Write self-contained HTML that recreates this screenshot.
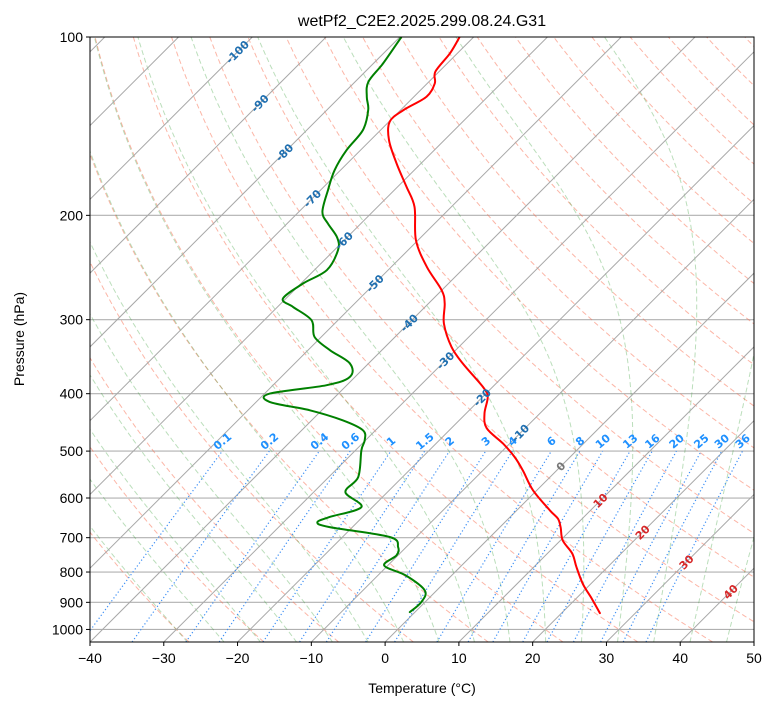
<!DOCTYPE html>
<html><head><meta charset="utf-8"><style>
html,body{margin:0;padding:0;background:#fff;}
svg{display:block;font-family:"Liberation Sans","DejaVu Sans",sans-serif;}
.lbl{font-family:"DejaVu Sans","Liberation Sans",sans-serif;}
</style></head><body>
<svg id="chart" width="775" height="708" viewBox="0 0 775 708" xmlns="http://www.w3.org/2000/svg">
<defs><clipPath id="plotclip"><rect x="90" y="37" width="664" height="605"/></clipPath></defs>
<rect x="0" y="0" width="775" height="708" fill="#fff"/>
<text x="422" y="26" text-anchor="middle" font-size="16" fill="#000">wetPf2_C2E2.2025.299.08.24.G31</text>
<g id="bg" clip-path="url(#plotclip)"></g>
<g id="traces" clip-path="url(#plotclip)"></g>
<g id="labels"></g>
<rect x="90" y="37" width="664" height="605" fill="none" stroke="#000" stroke-width="1"/>
<g id="axes"></g>
<text x="422" y="693" text-anchor="middle" font-size="14">Temperature (°C)</text>
<text x="24" y="339" text-anchor="middle" font-size="14" transform="rotate(-90 24 339)">Pressure (hPa)</text>
</svg>
<script>
const redP=[100,106.5,114.4,119.7,126.1,132.8,139.0,149.3,163.5,179.0,193.5,220.2,244.3,267.6,281.8,304.5,333.5,355.8,389.7,405.2,432.1,457.5,485.7,511.7,538.9,582.4,629.5,650.1,671.7,707.4,744.8,785.1,837.3,886.7,938.6];
const redT=[-71.9,-71.0,-70.5,-69.0,-68.3,-69.6,-69.9,-67.5,-63.3,-58.8,-55.0,-50.3,-45.2,-40.0,-37.8,-35.2,-31.0,-27.2,-21.3,-19.3,-17.5,-15.2,-10.9,-7.5,-4.6,-0.5,4.5,6.7,8.2,10.3,13.4,15.8,18.9,22.1,25.2];
const dewP=[100,110.8,119.0,126.1,132.8,143.6,155.2,167.8,181.3,197.3,206.4,218.1,229.0,247.5,260.6,276.4,285.5,300.6,320.9,337.9,355.8,374.8,387.1,399.9,413.0,426.7,443.6,461.1,479.5,498.5,553.1,586.3,621.5,646.2,659.6,671.7,698.3,726.1,749.9,779.8,810.8,859.5,899.6,934.9];
const dewT=[-79.8,-78.7,-78.2,-76.4,-74.4,-72.4,-71.9,-70.8,-69.0,-66.8,-64.5,-61.3,-59.5,-58.3,-59.7,-60.4,-57.9,-53.6,-50.9,-47.0,-42.5,-40.7,-42.8,-49.3,-48.2,-41.6,-35.8,-31.7,-30.1,-29.2,-26.0,-25.7,-21.5,-24.5,-25.4,-23.1,-13.6,-11.1,-10.2,-10.5,-6.2,-1.6,-0.5,-0.7];
const isobars=[100,200,300,400,500,600,700,800,900,1000];
const xTicks=[-40,-30,-20,-10,0,10,20,30,40,50];
const mixRatios=[0.1,0.2,0.4,0.6,1,1.5,2,3,4,6,8,10,13,16,20,25,30,36];
const mixLabels=["0.1","0.2","0.4","0.6","1","1.5","2","3","4","6","8","10","13","16","20","25","30","36"];
const isoLabelT=[-100,-90,-80,-70,-60,-50,-40,-30,-20,-10,0,10,20,30,40];
const isoLabelP=[106,129.4,156.7,187.3,220.6,260.6,303.8,351.6,405.9,466.2,530.5,606.0,685.4,769.7,863.6];

const NS="http://www.w3.org/2000/svg";
const X0=90,X1=754,Y0=37,Y1=642,sx=(X1-X0)/90;
const dec=(Y1-Y0)/Math.log10(1050/100);
function yP(p){return Y0+dec*Math.log10(p/100);}
function xTP(T,p){return X0+(T+40)*sx+(Y1-yP(p));}
function mk(tag,attrs,parent){const e=document.createElementNS(NS,tag);for(const k in attrs)e.setAttribute(k,attrs[k]);parent.appendChild(e);return e;}
const bg=document.getElementById('bg'),tr=document.getElementById('traces'),lb=document.getElementById('labels'),ax=document.getElementById('axes');
function pathFrom(pts){return pts.map((q,i)=>(i?'L':'M')+q[0].toFixed(1)+' '+q[1].toFixed(1)).join(' ');}
function smoothPath(pts){let d='M'+pts[0][0].toFixed(1)+' '+pts[0][1].toFixed(1);
 for(let i=0;i<pts.length-1;i++){const p0=pts[Math.max(0,i-1)],p1=pts[i],p2=pts[i+1],p3=pts[Math.min(pts.length-1,i+2)];
  const c1=[p1[0]+(p2[0]-p0[0])/6,p1[1]+(p2[1]-p0[1])/6],c2=[p2[0]-(p3[0]-p1[0])/6,p2[1]-(p3[1]-p1[1])/6];
  d+=' C'+c1[0].toFixed(1)+' '+c1[1].toFixed(1)+' '+c2[0].toFixed(1)+' '+c2[1].toFixed(1)+' '+p2[0].toFixed(1)+' '+p2[1].toFixed(1);}
 return d;}
const pgrid=[];for(let lp=Math.log(1050);lp>=Math.log(99);lp-=0.02)pgrid.push(Math.exp(lp));

isobars.forEach(p=>{
 const l=mk('line',{x1:X0,x2:X1,y1:yP(p),y2:yP(p),stroke:'#b0b0b0','stroke-width':1.1},bg);
 
 
});
for(let th=-30;th<=200;th+=10){
 const pts=pgrid.map(p=>[xTP((th+273.15)*Math.pow(p/1000,0.2857)-273.15,p),yP(p)]);
 const e=mk('path',{d:pathFrom(pts),fill:'none',stroke:'rgba(250,110,80,0.5)','stroke-width':1,'stroke-dasharray':'5,3'},bg);
 
 
}
function es(Tc){return 6.112*Math.exp(17.67*Tc/(Tc+243.5));}
function dTdlnp(T,p){const Tc=T-273.15,e=es(Tc),rs=0.622*e/(p-e),Rd=287.04,Lv=2.501e6,Cp=1005.7;
 return (Rd*T+Lv*rs)/(Cp+Lv*Lv*rs*0.622/(Rd*T*T));}
function moist(T0){const up=[],dn=[];let T=T0+273.15,lp=Math.log(1000);const h=-0.01;
 up.push([T,1000]);
 while(lp>Math.log(100)){const k1=dTdlnp(T,Math.exp(lp));const k2=dTdlnp(T+h*k1,Math.exp(lp+h));T+=h*(k1+k2)/2;lp+=h;up.push([T,Math.exp(lp)]);}
 T=T0+273.15;lp=Math.log(1000);
 while(lp<Math.log(1050)){const hh=0.01;const k1=dTdlnp(T,Math.exp(lp));T+=hh*k1;lp+=hh;dn.push([T,Math.exp(lp)]);}
 return dn.reverse().concat(up).map(q=>[xTP(q[0]-273.15,q[1]),yP(q[1])]);}
for(let t0=-30;t0<=45;t0+=5){
 const e=mk('path',{d:pathFrom(moist(t0)),fill:'none',stroke:'rgba(60,160,60,0.35)','stroke-width':1,'stroke-dasharray':'5,3'},bg);
 
 
}
for(let T=-160;T<=50;T+=10){
 const e=mk('line',{x1:xTP(T,1050),y1:yP(1050),x2:xTP(T,100),y2:yP(100),stroke:'#a8a8a8','stroke-width':1},bg);
 
 
}
function tdFromW(wgkg,p){const w=wgkg/1000;const e=p*w/(0.622+w);const l=Math.log(e/6.112);return 243.5*l/(17.67-l);}
mixRatios.forEach((w,i)=>{
 const pts=[];for(let p=1050;p>=500;p-=10)pts.push([xTP(tdFromW(w,p),p),yP(p)]);
 const e=mk('path',{d:pathFrom(pts),fill:'none',stroke:'#3d8ff5','stroke-width':1.2,'stroke-dasharray':'1.2,2.4'},bg);
 
 
 const lx=xTP(tdFromW(w,500),500),ly=yP(500)-10;
 const t=mk('text',{class:'lbl',x:lx,y:ly+4,'text-anchor':'middle','font-size':11,'font-weight':'bold',fill:'#1e90ff',transform:'rotate(-40 '+lx+' '+ly+')'},lb);
 t.textContent=mixLabels[i];
 
 
});
isoLabelT.forEach((T,i)=>{
 const p=isoLabelP[i];const lx=xTP(T,p),ly=yP(p);
 const col=T<0?'#1f6fb0':(T===0?'#777':'#d62728');
 const t=mk('text',{class:'lbl',x:lx,y:ly+4,'text-anchor':'middle','font-size':11,'font-weight':'bold',fill:col,transform:'rotate(-45 '+lx+' '+ly+')'},lb);
 t.textContent=String(T);
 
 
});
function trace(P,T,col,name){
 const pts=P.map((p,i)=>[xTP(T[i],p),yP(p)]);
 const e=mk('path',{d:smoothPath(pts),fill:'none',stroke:col,'stroke-width':2,'stroke-linejoin':'round','stroke-linecap':'round'},tr);
 
 
}
trace(dewP,dewT,'#008000','dewpoint-trace');
trace(redP,redT,'#ff0000','temperature-trace');
xTicks.forEach(T=>{
 const x=X0+(T+40)*sx;
 mk('line',{x1:x,x2:x,y1:Y1,y2:Y1+4,stroke:'#000'},ax);
 const t=mk('text',{x:x,y:Y1+21,'text-anchor':'middle','font-size':14},ax);
 t.textContent=(T<0?'\u2212'+(-T):String(T));
 
 
});
isobars.forEach(p=>{
 const y=yP(p);
 mk('line',{x1:X0-4,x2:X0,y1:y,y2:y,stroke:'#000'},ax);
 const t=mk('text',{x:X0-7,y:y+5,'text-anchor':'end','font-size':14},ax);
 t.textContent=String(p);
 
 
});
</script>
</body></html>
